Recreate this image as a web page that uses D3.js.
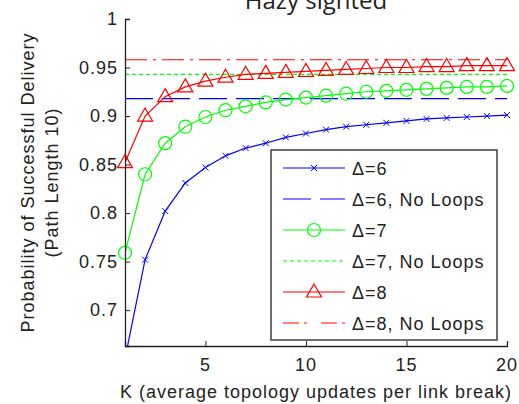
<!DOCTYPE html>
<html>
<head>
<meta charset="utf-8">
<script src="https://cdn.jsdelivr.net/npm/d3@7"></script>
<style>
  html, body { margin: 0; padding: 0; background: #fff; }
  svg text { font-family: "Liberation Sans", Arial, sans-serif; fill: #222; letter-spacing: 1px; }
</style>
</head>
<body>
<div id="chart"></div>
<script>
// K values and series
const kValues = [1, 2, 3, 4, 5, 6, 7, 8, 9, 10, 11, 12, 13, 14, 15, 16, 17, 18, 19, 20]
const delta6 = [0.650, 0.752, 0.802, 0.831, 0.847, 0.859, 0.867, 0.872, 0.878, 0.882,
                0.886, 0.889, 0.891, 0.893, 0.895, 0.897, 0.898, 0.899, 0.900, 0.901]
const delta7 = [0.759, 0.840, 0.872, 0.889, 0.899, 0.906, 0.910, 0.914, 0.917, 0.919,
                0.921, 0.923, 0.925, 0.926, 0.927, 0.928, 0.929, 0.930, 0.930, 0.931]
const delta8 = [0.852, 0.900, 0.920, 0.930, 0.936, 0.940, 0.943, 0.944, 0.945, 0.946,
                0.947, 0.948, 0.949, 0.950, 0.950, 0.951, 0.951, 0.952, 0.952, 0.952]
const noLoops = [0.918, 0.943, 0.958]
const xTicks = [5, 10, 15, 20]
const yTicks = [0.7, 0.75, 0.8, 0.85, 0.9, 0.95, 1]
const legendLabels = ['Δ=6', 'Δ=6, No Loops', 'Δ=7', 'Δ=7, No Loops', 'Δ=8', 'Δ=8, No Loops']

const width = 519
const height = 404
const margin = {top: 19, right: 12, bottom: 58, left: 125}
const gWidth = width - margin.left - margin.right
const gHeight = height - margin.top - margin.bottom

const svg = d3.select('#chart')
  .append('svg')
  .attr('width', width)
  .attr('height', height)

const x = d3.scaleLinear().domain([1, 20]).range([0, gWidth])
const y = d3.scaleLinear().domain([0.663, 1]).range([gHeight, 0])

const g = svg.append('g')
  .attr('transform', `translate(${margin.left}, ${margin.top})`)

svg.append('defs').append('clipPath')
  .attr('id', 'plot-clip')
  .append('rect')
  .attr('x', 0).attr('y', 0)
  .attr('width', gWidth).attr('height', gHeight)

// marker shapes
function marker (sel, type, color) {
  if (type === 'x') {
    sel.append('path')
      .attr('d', 'M-3,-3L3,3M-3,3L3,-3')
      .attr('stroke', color).attr('stroke-width', 1).attr('fill', 'none')
  } else if (type === 'o') {
    sel.append('circle')
      .attr('r', 6.5)
      .attr('stroke', color).attr('stroke-width', 1.2).attr('fill', 'none')
  } else if (type === '^') {
    sel.append('path')
      .attr('d', 'M0,-8L7.5,5L-7.5,5Z')
      .attr('stroke', color).attr('stroke-width', 1.2).attr('fill', 'none')
  }
}

const series = [
  {values: delta6, color: '#0000ff', mark: 'x'},
  {values: delta7, color: '#00ff00', mark: 'o'},
  {values: delta8, color: '#ff0000', mark: '^'}
]
const refLines = [
  {value: noLoops[0], color: '#0000ff', dash: '28,9'},
  {value: noLoops[1], color: '#00ff00', dash: '4,3'},
  {value: noLoops[2], color: '#ff0000', dash: '22,6,3,6'}
]

const plot = g.append('g').attr('clip-path', 'url(#plot-clip)')

// horizontal "No Loops" lines
refLines.forEach(r => {
  plot.append('line')
    .attr('x1', x(1)).attr('x2', x(20))
    .attr('y1', y(r.value)).attr('y2', y(r.value))
    .attr('stroke', r.color)
    .attr('stroke-width', 1.2)
    .attr('stroke-dasharray', r.dash)
})

const line = d3.line()
  .x((d, i) => x(kValues[i]))
  .y(d => y(d))

series.forEach(s => {
  plot.append('path')
    .attr('d', line(s.values))
    .attr('fill', 'none')
    .attr('stroke', s.color)
    .attr('stroke-width', 1.2)
  s.values.forEach((v, i) => {
    if (v < y.domain()[0]) return
    const m = g.append('g')
      .attr('transform', `translate(${x(kValues[i])}, ${y(v)})`)
    marker(m, s.mark, s.color)
  })
})

// axes, ticks pointing inward, no box
const xAxis = d3.axisTop(x).tickValues(xTicks).tickSize(5).tickFormat('')
const yAxis = d3.axisRight(y).tickValues(yTicks).tickSize(5).tickFormat('')

const gx = g.append('g')
  .attr('transform', `translate(0, ${gHeight})`)
  .call(xAxis)
const gy = g.append('g').call(yAxis)
;[gx, gy].forEach(a => {
  a.select('.domain').attr('stroke', '#222').attr('stroke-width', 1.3)
  a.selectAll('.tick line').attr('stroke', '#222')
})

g.selectAll('.xlab')
  .data(xTicks)
  .enter().append('text')
  .attr('x', d => x(d))
  .attr('y', gHeight + 25)
  .attr('text-anchor', 'middle')
  .style('font-size', '18px')
  .text(d => d)

g.selectAll('.ylab')
  .data(yTicks)
  .enter().append('text')
  .attr('x', -7)
  .attr('y', d => y(d) + 6)
  .attr('text-anchor', 'end')
  .style('font-size', '18px')
  .text(d => d)

// axis titles
svg.append('text')
  .attr('x', margin.left + gWidth / 2)
  .attr('y', 398)
  .attr('text-anchor', 'middle')
  .style('font-size', '18px')
  .text('K (average topology updates per link break)')

const yTitle = svg.append('text')
  .attr('transform', `translate(34, ${margin.top + gHeight / 2}) rotate(-90)`)
  .attr('text-anchor', 'middle')
  .style('font-size', '18px')
yTitle.append('tspan').attr('x', 0).attr('dy', 0).text('Probability of Successful Delivery')
yTitle.append('tspan').attr('x', 0).attr('dy', 24).text('(Path Length 10)')

// title, partly cut off at the top of the figure as in the original
svg.append('text')
  .attr('x', margin.left + gWidth / 2)
  .attr('y', 9)
  .attr('text-anchor', 'middle')
  .style('font-family', '"Open Sans", sans-serif')
  .style('letter-spacing', '0px')
  .style('font-size', '24px')
  .text('Hazy sighted')

// legend
const legend = svg.append('g').attr('transform', 'translate(271, 150)')
legend.append('rect')
  .attr('width', 226).attr('height', 190)
  .attr('fill', '#fff').attr('stroke', '#222').attr('stroke-width', 1.3)

const legendItems = [
  {color: '#0000ff', mark: 'x'},
  {color: '#0000ff', dash: '28,9'},
  {color: '#00ff00', mark: 'o'},
  {color: '#00ff00', dash: '4,3'},
  {color: '#ff0000', mark: '^'},
  {color: '#ff0000', dash: '16,5,3,14'}
]
legendItems.forEach((d, i) => {
  const row = legend.append('g').attr('transform', `translate(0, ${18 + i * 31})`)
  row.append('line')
    .attr('x1', 12).attr('x2', 74)
    .attr('stroke', d.color)
    .attr('stroke-width', 1.2)
    .attr('stroke-dasharray', d.dash || null)
  if (d.mark) marker(row.append('g').attr('transform', 'translate(43, 0)'), d.mark, d.color)
  row.append('text')
    .attr('x', 81).attr('y', 7)
    .style('font-size', '18px')
    .text(legendLabels[i])
})
</script>
</body>
</html>
